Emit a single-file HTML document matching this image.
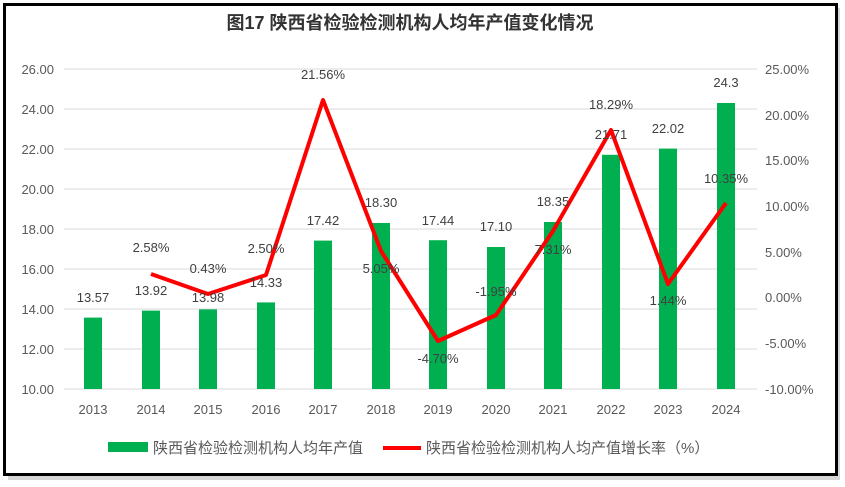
<!DOCTYPE html>
<html><head><meta charset="utf-8"><style>
body{margin:0;background:#fff;}
svg{display:block;font-family:"Liberation Sans","Noto Sans CJK SC",sans-serif;}
</style></head><body>
<svg width="845" height="487" viewBox="0 0 845 487">
<rect x="8" y="8" width="832" height="472" fill="#bbb" opacity="0.6"/>
<rect x="4.5" y="4.5" width="832" height="470" fill="#fff" stroke="#000" stroke-width="3"/>
<text x="410" y="29" text-anchor="middle" font-size="18" font-weight="bold" fill="#333">图17 陕西省检验检测机构人均年产值变化情况</text>
<g stroke="#d9d9d9" stroke-width="1">
<line x1="64" x2="757" y1="69" y2="69"/><line x1="64" x2="757" y1="109" y2="109"/>
<line x1="64" x2="757" y1="149" y2="149"/><line x1="64" x2="757" y1="189" y2="189"/>
<line x1="64" x2="757" y1="229" y2="229"/><line x1="64" x2="757" y1="269" y2="269"/>
<line x1="64" x2="757" y1="309" y2="309"/><line x1="64" x2="757" y1="349" y2="349"/>
<line x1="64" x2="757" y1="389" y2="389"/>
</g>
<g font-size="13" fill="#595959" text-anchor="end">
<text x="54" y="74">26.00</text><text x="54" y="114">24.00</text><text x="54" y="154">22.00</text>
<text x="54" y="194">20.00</text><text x="54" y="234">18.00</text><text x="54" y="274">16.00</text>
<text x="54" y="314">14.00</text><text x="54" y="354">12.00</text><text x="54" y="394">10.00</text>
</g>
<g font-size="13" fill="#595959" text-anchor="start">
<text x="765" y="74">25.00%</text><text x="765" y="120">20.00%</text><text x="765" y="165">15.00%</text>
<text x="765" y="211">10.00%</text><text x="765" y="257">5.00%</text><text x="765" y="302">0.00%</text>
<text x="765" y="348">-5.00%</text><text x="765" y="394">-10.00%</text>
</g>
<g fill="#00b050">
<rect x="84" y="317.6" width="18" height="71.4"/>
<rect x="142" y="310.6" width="18" height="78.4"/>
<rect x="199" y="309.4" width="18" height="79.6"/>
<rect x="257" y="302.4" width="18" height="86.6"/>
<rect x="314" y="240.6" width="18" height="148.4"/>
<rect x="372" y="223" width="18" height="166"/>
<rect x="429" y="240.2" width="18" height="148.8"/>
<rect x="487" y="247" width="18" height="142"/>
<rect x="544" y="222" width="18" height="167"/>
<rect x="602" y="154.8" width="18" height="234.2"/>
<rect x="659" y="148.6" width="18" height="240.4"/>
<rect x="717" y="103" width="18" height="286"/>
</g>
<polyline fill="none" stroke="#ff0000" stroke-width="4" stroke-linejoin="round" points="151,274 208,294 266,275 323,100 381,251 438,341 496,315 553,231 611,130 668,284 726,203"/>
<g font-size="13" fill="#404040" text-anchor="middle">
<text x="93" y="302">13.57</text><text x="151" y="295">13.92</text><text x="208" y="302">13.98</text>
<text x="266" y="287">14.33</text><text x="323" y="225">17.42</text><text x="381" y="207">18.30</text>
<text x="438" y="225">17.44</text><text x="496" y="231">17.10</text><text x="553" y="206">18.35</text>
<text x="611" y="139">21.71</text><text x="668" y="133">22.02</text><text x="726" y="87">24.3</text>
<text x="151" y="252">2.58%</text><text x="208" y="273">0.43%</text><text x="266" y="253">2.50%</text>
<text x="323" y="79">21.56%</text><text x="381" y="273">5.05%</text><text x="438" y="363">-4.70%</text>
<text x="496" y="296">-1.95%</text><text x="553" y="254">7.31%</text><text x="611" y="109">18.29%</text>
<text x="668" y="305">1.44%</text><text x="726" y="183">10.35%</text>
</g>
<g font-size="13" fill="#595959" text-anchor="middle">
<text x="93" y="414">2013</text><text x="151" y="414">2014</text><text x="208" y="414">2015</text>
<text x="266" y="414">2016</text><text x="323" y="414">2017</text><text x="381" y="414">2018</text>
<text x="438" y="414">2019</text><text x="496" y="414">2020</text><text x="553" y="414">2021</text>
<text x="611" y="414">2022</text><text x="668" y="414">2023</text><text x="726" y="414">2024</text>
</g>
<rect x="108" y="442" width="40" height="10" fill="#00b050"/>
<text x="153" y="453" font-size="15" fill="#595959">陕西省检验检测机构人均年产值</text>
<line x1="383" x2="421" y1="448" y2="448" stroke="#ff0000" stroke-width="4"/>
<text x="426" y="453" font-size="15" fill="#595959">陕西省检验检测机构人均产值增长率（%）</text>
</svg>
</body></html>
